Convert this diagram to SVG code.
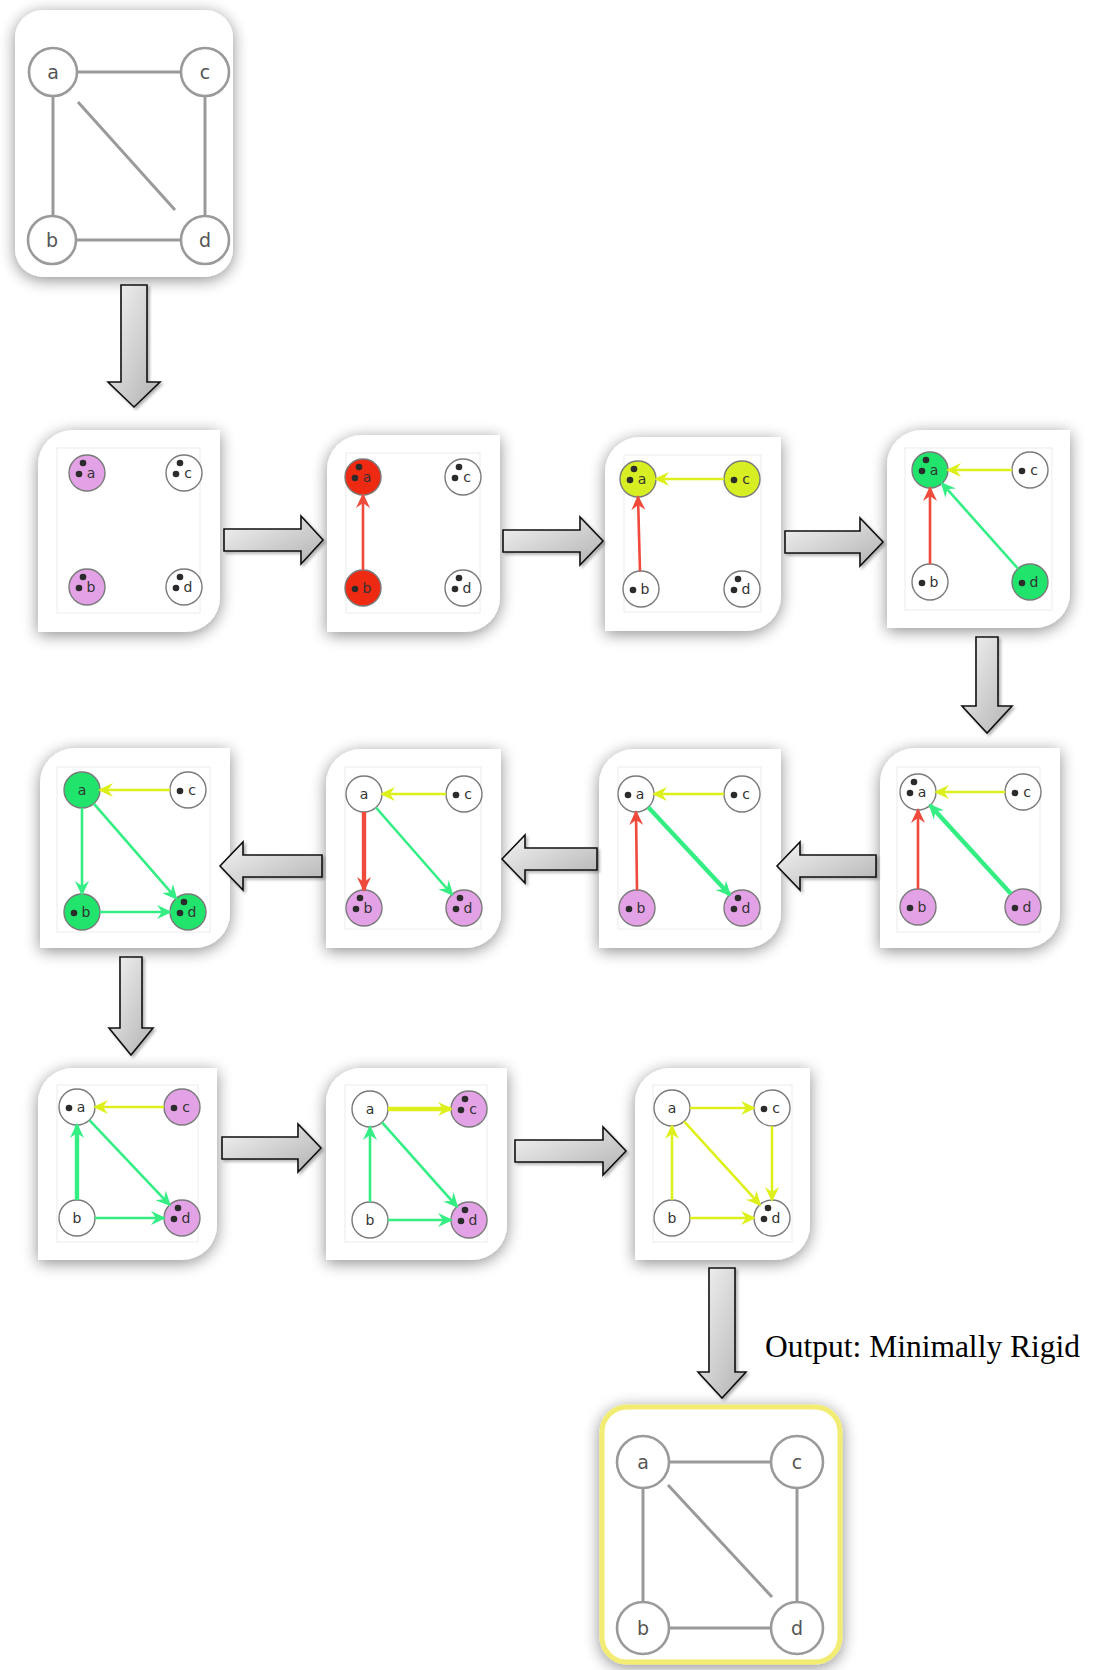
<svg xmlns="http://www.w3.org/2000/svg" width="1093" height="1670" viewBox="0 0 1093 1670">
<defs>
  <filter id="sh" x="-25%" y="-25%" width="150%" height="150%">
    <feGaussianBlur in="SourceAlpha" stdDeviation="8"/>
    <feOffset dx="0" dy="3"/>
    <feComponentTransfer><feFuncA type="linear" slope="0.45"/></feComponentTransfer>
    <feMerge><feMergeNode/><feMergeNode in="SourceGraphic"/></feMerge>
  </filter>
  <filter id="ash" x="-20%" y="-20%" width="140%" height="140%">
    <feGaussianBlur in="SourceAlpha" stdDeviation="1.5"/>
    <feOffset dx="2" dy="2"/>
    <feComponentTransfer><feFuncA type="linear" slope="0.3"/></feComponentTransfer>
    <feMerge><feMergeNode/><feMergeNode in="SourceGraphic"/></feMerge>
  </filter>
  <linearGradient id="gfill" x1="0" y1="0" x2="1" y2="1">
    <stop offset="0" stop-color="#f4f4f4"/>
    <stop offset="1" stop-color="#b2b2b2"/>
  </linearGradient>
  <marker id="mr" viewBox="0 0 15 14" refX="13" refY="7" markerWidth="15" markerHeight="14" markerUnits="userSpaceOnUse" orient="auto">
    <path d="M0,0 L15,7 L0,14 L5,7 Z" fill="#ef4a3c"/>
  </marker>
  <marker id="my" viewBox="0 0 15 14" refX="13" refY="7" markerWidth="15" markerHeight="14" markerUnits="userSpaceOnUse" orient="auto">
    <path d="M0,0 L15,7 L0,14 L5,7 Z" fill="#def01c"/>
  </marker>
  <marker id="mg" viewBox="0 0 15 14" refX="13" refY="7" markerWidth="15" markerHeight="14" markerUnits="userSpaceOnUse" orient="auto">
    <path d="M0,0 L15,7 L0,14 L5,7 Z" fill="#34ee84"/>
  </marker>
  <style>
    .panel { fill:#ffffff; filter:url(#sh); }
    .inner { fill:#ffffff; stroke:#ececec; stroke-width:1; }
    .n { stroke:#7a7a7a; stroke-width:1.4; }
    .pk { fill:#e4a2e6; }
    .rd { fill:#ee2a12; }
    .yl { fill:#d6ee22; }
    .gn { fill:#20e46c; }
    .wh { fill:#ffffff; }
    .peb { fill:#2b2b2b; }
    .lbl { font-family:"DejaVu Sans","Liberation Sans",sans-serif; font-size:14px; fill:#333; text-anchor:middle; }
    .e { fill:none; stroke-width:2.6; }
    .th { stroke-width:4.4; }
    .er { stroke:#ef4a3c; marker-end:url(#mr); }
    .ey { stroke:#def01c; marker-end:url(#my); }
    .eg { stroke:#34ee84; marker-end:url(#mg); }
    .big { fill:url(#gfill); stroke:#111; stroke-width:1.6; stroke-linejoin:miter; filter:url(#ash); }
    .gline { stroke:#9a9a9a; stroke-width:3; fill:none; }
    .gnode { fill:#fff; stroke:#9a9a9a; stroke-width:2.6; }
    .glbl { font-family:"DejaVu Sans","Liberation Sans",sans-serif; font-size:19px; fill:#555; text-anchor:middle; }
  </style>
</defs>

<rect width="1093" height="1670" fill="#ffffff"/>

<!-- input graph -->
<g id="input">
  <rect x="15" y="10" width="218" height="267" rx="28" fill="#fff" filter="url(#sh)"/>
  <line class="gline" x1="77" y1="72" x2="181" y2="72"/>
  <line class="gline" x1="53" y1="96" x2="53" y2="216"/>
  <line class="gline" x1="205" y1="96" x2="205" y2="216"/>
  <line class="gline" x1="76" y1="240" x2="181" y2="240"/>
  <line class="gline" x1="78" y1="102" x2="175" y2="210"/>
  <circle class="gnode" cx="53" cy="72" r="24"/><text class="glbl" x="53" y="79">a</text>
  <circle class="gnode" cx="205" cy="72" r="24"/><text class="glbl" x="205" y="79">c</text>
  <circle class="gnode" cx="52" cy="240" r="24"/><text class="glbl" x="52" y="247">b</text>
  <circle class="gnode" cx="205" cy="240" r="24"/><text class="glbl" x="205" y="247">d</text>
</g>

<!-- step 1 -->
<g id="step1">
  <path class="panel" d="M38,632 V465 A35,35 0 0 1 73,430 H220 V597 A35,35 0 0 1 185,632 Z"/>
  <rect class="inner" x="57" y="448" width="143" height="165"/>
  <circle class="n pk" cx="87" cy="473" r="18"/><circle class="peb" cx="79" cy="474" r="3.3"/><circle class="peb" cx="83" cy="463" r="3.3"/><text class="lbl" x="91" y="478">a</text>
  <circle class="n wh" cx="184" cy="473" r="18"/><circle class="peb" cx="176" cy="474" r="3.3"/><circle class="peb" cx="180" cy="463" r="3.3"/><text class="lbl" x="188" y="478">c</text>
  <circle class="n pk" cx="87" cy="587" r="18"/><circle class="peb" cx="79" cy="588" r="3.3"/><circle class="peb" cx="83" cy="577" r="3.3"/><text class="lbl" x="91" y="592">b</text>
  <circle class="n wh" cx="184" cy="587" r="18"/><circle class="peb" cx="176" cy="588" r="3.3"/><circle class="peb" cx="180" cy="577" r="3.3"/><text class="lbl" x="188" y="592">d</text>
</g>

<!-- step 2 -->
<g id="step2">
  <path class="panel" d="M327,632 V470 A35,35 0 0 1 362,435 H500 V597 A35,35 0 0 1 465,632 Z"/>
  <rect class="inner" x="346" y="453" width="134" height="160"/>
  <circle class="n rd" cx="363" cy="477" r="18"/><circle class="peb" cx="355" cy="478" r="3.3"/><circle class="peb" cx="359" cy="467" r="3.3"/><text class="lbl" x="367" y="482">a</text>
  <circle class="n wh" cx="463" cy="477" r="18"/><circle class="peb" cx="455" cy="478" r="3.3"/><circle class="peb" cx="459" cy="467" r="3.3"/><text class="lbl" x="467" y="482">c</text>
  <circle class="n rd" cx="363" cy="588" r="18"/><circle class="peb" cx="355" cy="589" r="3.3"/><text class="lbl" x="367" y="593">b</text>
  <circle class="n wh" cx="463" cy="588" r="18"/><circle class="peb" cx="455" cy="589" r="3.3"/><circle class="peb" cx="459" cy="578" r="3.3"/><text class="lbl" x="467" y="593">d</text>
  <line class="e er" x1="363" y1="570" x2="363" y2="495"/>
</g>

<!-- step 3 -->
<g id="step3">
  <path class="panel" d="M605,631 V472 A35,35 0 0 1 640,437 H781 V596 A35,35 0 0 1 746,631 Z"/>
  <rect class="inner" x="624" y="455" width="137" height="157"/>
  <circle class="n yl" cx="638" cy="479" r="18"/><circle class="peb" cx="630" cy="480" r="3.3"/><circle class="peb" cx="634" cy="469" r="3.3"/><text class="lbl" x="642" y="484">a</text>
  <circle class="n yl" cx="742" cy="479" r="18"/><circle class="peb" cx="734" cy="480" r="3.3"/><text class="lbl" x="746" y="484">c</text>
  <circle class="n wh" cx="641" cy="589" r="18"/><circle class="peb" cx="633" cy="590" r="3.3"/><text class="lbl" x="645" y="594">b</text>
  <circle class="n wh" cx="742" cy="589" r="18"/><circle class="peb" cx="734" cy="590" r="3.3"/><circle class="peb" cx="738" cy="579" r="3.3"/><text class="lbl" x="746" y="594">d</text>
  <line class="e er" x1="640" y1="571" x2="638" y2="497"/>
  <line class="e ey" x1="724" y1="479" x2="656" y2="479"/>
</g>

<!-- step 4 -->
<g id="step4">
  <path class="panel" d="M887,628 V465 A35,35 0 0 1 922,430 H1070 V593 A35,35 0 0 1 1035,628 Z"/>
  <rect class="inner" x="905" y="448" width="147" height="162"/>
  <circle class="n gn" cx="930" cy="470" r="18"/><circle class="peb" cx="922" cy="471" r="3.3"/><circle class="peb" cx="926" cy="460" r="3.3"/><text class="lbl" x="934" y="475">a</text>
  <circle class="n wh" cx="1030" cy="470" r="18"/><circle class="peb" cx="1022" cy="471" r="3.3"/><text class="lbl" x="1034" y="475">c</text>
  <circle class="n wh" cx="930" cy="582" r="18"/><circle class="peb" cx="922" cy="583" r="3.3"/><text class="lbl" x="934" y="587">b</text>
  <circle class="n gn" cx="1030" cy="582" r="18"/><circle class="peb" cx="1022" cy="583" r="3.3"/><text class="lbl" x="1034" y="587">d</text>
  <line class="e er" x1="930" y1="564" x2="930" y2="488"/>
  <line class="e ey" x1="1012" y1="470" x2="948" y2="470"/>
  <line class="e eg" x1="1018" y1="568.6" x2="942" y2="483.4"/>
</g>

<!-- step 5 -->
<g id="step5">
  <path class="panel" d="M880,948 V783 A35,35 0 0 1 915,748 H1060 V913 A35,35 0 0 1 1025,948 Z"/>
  <rect class="inner" x="897" y="767" width="143" height="165"/>
  <circle class="n wh" cx="918" cy="792" r="18"/><circle class="peb" cx="910" cy="793" r="3.3"/><circle class="peb" cx="914" cy="782" r="3.3"/><text class="lbl" x="922" y="797">a</text>
  <circle class="n wh" cx="1023" cy="792" r="18"/><circle class="peb" cx="1015" cy="793" r="3.3"/><text class="lbl" x="1027" y="797">c</text>
  <circle class="n pk" cx="918" cy="907" r="18"/><circle class="peb" cx="910" cy="908" r="3.3"/><text class="lbl" x="922" y="912">b</text>
  <circle class="n pk" cx="1023" cy="907" r="18"/><circle class="peb" cx="1015" cy="908" r="3.3"/><text class="lbl" x="1027" y="912">d</text>
  <line class="e er" x1="918" y1="889" x2="918" y2="810"/>
  <line class="e ey" x1="1005" y1="792" x2="936" y2="792"/>
  <line class="e eg th" x1="1010.9" y1="893.7" x2="930.1" y2="805.3"/>
</g>

<!-- step 6 -->
<g id="step6">
  <path class="panel" d="M599,948 V784 A35,35 0 0 1 634,749 H781 V913 A35,35 0 0 1 746,948 Z"/>
  <rect class="inner" x="618" y="767" width="143" height="162"/>
  <circle class="n wh" cx="636" cy="794" r="18"/><circle class="peb" cx="628" cy="795" r="3.3"/><text class="lbl" x="640" y="799">a</text>
  <circle class="n wh" cx="742" cy="794" r="18"/><circle class="peb" cx="734" cy="795" r="3.3"/><text class="lbl" x="746" y="799">c</text>
  <circle class="n pk" cx="637" cy="908" r="18"/><circle class="peb" cx="629" cy="909" r="3.3"/><text class="lbl" x="641" y="913">b</text>
  <circle class="n pk" cx="742" cy="908" r="18"/><circle class="peb" cx="734" cy="909" r="3.3"/><circle class="peb" cx="738" cy="898" r="3.3"/><text class="lbl" x="746" y="913">d</text>
  <line class="e er" x1="637" y1="890" x2="636" y2="812"/>
  <line class="e ey" x1="724" y1="794" x2="654" y2="794"/>
  <line class="e eg th" x1="648.3" y1="807.2" x2="729.7" y2="894.8"/>
</g>

<!-- step 7 -->
<g id="step7">
  <path class="panel" d="M326,948 V784 A35,35 0 0 1 361,749 H501 V913 A35,35 0 0 1 466,948 Z"/>
  <rect class="inner" x="345" y="767" width="136" height="162"/>
  <circle class="n wh" cx="364" cy="794" r="18"/><text class="lbl" x="364" y="799">a</text>
  <circle class="n wh" cx="464" cy="794" r="18"/><circle class="peb" cx="456" cy="795" r="3.3"/><text class="lbl" x="468" y="799">c</text>
  <circle class="n pk" cx="364" cy="908" r="18"/><circle class="peb" cx="356" cy="909" r="3.3"/><circle class="peb" cx="360" cy="898" r="3.3"/><text class="lbl" x="368" y="913">b</text>
  <circle class="n pk" cx="464" cy="908" r="18"/><circle class="peb" cx="456" cy="909" r="3.3"/><circle class="peb" cx="460" cy="898" r="3.3"/><text class="lbl" x="468" y="913">d</text>
  <line class="e er th" x1="364" y1="812" x2="364" y2="890"/>
  <line class="e ey" x1="446" y1="794" x2="382" y2="794"/>
  <line class="e eg" x1="375.9" y1="807.5" x2="452.1" y2="894.5"/>
</g>

<!-- step 8 -->
<g id="step8">
  <path class="panel" d="M40,948 V783 A35,35 0 0 1 75,748 H230 V913 A35,35 0 0 1 195,948 Z"/>
  <rect class="inner" x="57" y="767" width="153" height="165"/>
  <circle class="n gn" cx="82" cy="790" r="18"/><text class="lbl" x="82" y="795">a</text>
  <circle class="n wh" cx="188" cy="790" r="18"/><circle class="peb" cx="180" cy="791" r="3.3"/><text class="lbl" x="192" y="795">c</text>
  <circle class="n gn" cx="82" cy="912" r="18"/><circle class="peb" cx="74" cy="913" r="3.3"/><text class="lbl" x="86" y="917">b</text>
  <circle class="n gn" cx="188" cy="912" r="18"/><circle class="peb" cx="180" cy="913" r="3.3"/><circle class="peb" cx="184" cy="902" r="3.3"/><text class="lbl" x="192" y="917">d</text>
  <line class="e eg" x1="82" y1="808" x2="82" y2="894"/>
  <line class="e ey" x1="170" y1="790" x2="100" y2="790"/>
  <line class="e eg" x1="93.8" y1="803.6" x2="176.2" y2="898.4"/>
  <line class="e eg" x1="100" y1="912" x2="170" y2="912"/>
</g>

<!-- step 9 -->
<g id="step9">
  <path class="panel" d="M38,1260 V1103 A35,35 0 0 1 73,1068 H217 V1225 A35,35 0 0 1 182,1260 Z"/>
  <rect class="inner" x="57" y="1085" width="141" height="157"/>
  <circle class="n wh" cx="77" cy="1107" r="18"/><circle class="peb" cx="69" cy="1108" r="3.3"/><text class="lbl" x="81" y="1112">a</text>
  <circle class="n pk" cx="182" cy="1107" r="18"/><circle class="peb" cx="174" cy="1108" r="3.3"/><text class="lbl" x="186" y="1112">c</text>
  <circle class="n wh" cx="77" cy="1218" r="18"/><text class="lbl" x="77" y="1223">b</text>
  <circle class="n pk" cx="182" cy="1218" r="18"/><circle class="peb" cx="174" cy="1219" r="3.3"/><circle class="peb" cx="178" cy="1208" r="3.3"/><text class="lbl" x="186" y="1223">d</text>
  <line class="e eg th" x1="77" y1="1200" x2="77" y2="1125"/>
  <line class="e ey" x1="164" y1="1107" x2="95" y2="1107"/>
  <line class="e eg" x1="89.4" y1="1120.1" x2="169.6" y2="1204.9"/>
  <line class="e eg" x1="95" y1="1218" x2="164" y2="1218"/>
</g>

<!-- step 10 -->
<g id="step10">
  <path class="panel" d="M326,1260 V1103 A35,35 0 0 1 361,1068 H507 V1225 A35,35 0 0 1 472,1260 Z"/>
  <rect class="inner" x="345" y="1085" width="142" height="157"/>
  <circle class="n wh" cx="370" cy="1109" r="18"/><text class="lbl" x="370" y="1114">a</text>
  <circle class="n pk" cx="469" cy="1109" r="18"/><circle class="peb" cx="461" cy="1110" r="3.3"/><circle class="peb" cx="465" cy="1099" r="3.3"/><text class="lbl" x="473" y="1114">c</text>
  <circle class="n wh" cx="370" cy="1220" r="18"/><text class="lbl" x="370" y="1225">b</text>
  <circle class="n pk" cx="469" cy="1220" r="18"/><circle class="peb" cx="461" cy="1221" r="3.3"/><circle class="peb" cx="465" cy="1210" r="3.3"/><text class="lbl" x="473" y="1225">d</text>
  <line class="e eg" x1="370" y1="1202" x2="370" y2="1127"/>
  <line class="e ey th" x1="388" y1="1109" x2="451" y2="1109"/>
  <line class="e eg" x1="382" y1="1122.4" x2="457" y2="1206.6"/>
  <line class="e eg" x1="388" y1="1220" x2="451" y2="1220"/>
</g>

<!-- step 11 -->
<g id="step11">
  <path class="panel" d="M635,1260 V1103 A35,35 0 0 1 670,1068 H810 V1225 A35,35 0 0 1 775,1260 Z"/>
  <rect class="inner" x="653" y="1085" width="139" height="157"/>
  <circle class="n wh" cx="672" cy="1108" r="18"/><text class="lbl" x="672" y="1113">a</text>
  <circle class="n wh" cx="772" cy="1108" r="18"/><circle class="peb" cx="764" cy="1109" r="3.3"/><text class="lbl" x="776" y="1113">c</text>
  <circle class="n wh" cx="672" cy="1218" r="18"/><text class="lbl" x="672" y="1223">b</text>
  <circle class="n wh" cx="772" cy="1218" r="18"/><circle class="peb" cx="764" cy="1219" r="3.3"/><circle class="peb" cx="768" cy="1208" r="3.3"/><text class="lbl" x="776" y="1223">d</text>
  <line class="e ey" x1="672" y1="1200" x2="672" y2="1126"/>
  <line class="e ey" x1="690" y1="1108" x2="754" y2="1108"/>
  <line class="e ey" x1="684.1" y1="1121.3" x2="759.9" y2="1204.7"/>
  <line class="e ey" x1="690" y1="1218" x2="754" y2="1218"/>
  <line class="e ey" x1="772" y1="1126" x2="772" y2="1200"/>
</g>

<!-- result graph -->
<g id="output">
  <rect x="602" y="1407" width="238" height="255" rx="25" fill="#fff" stroke="#f2ec72" stroke-width="5" filter="url(#sh)"/>
  <line class="gline" x1="669" y1="1462" x2="771" y2="1462"/>
  <line class="gline" x1="643" y1="1488" x2="643" y2="1602"/>
  <line class="gline" x1="797" y1="1488" x2="797" y2="1602"/>
  <line class="gline" x1="669" y1="1628" x2="771" y2="1628"/>
  <line class="gline" x1="668" y1="1485" x2="772" y2="1597"/>
  <circle class="gnode" cx="643" cy="1462" r="26"/><text class="glbl" x="643" y="1469">a</text>
  <circle class="gnode" cx="797" cy="1462" r="26"/><text class="glbl" x="797" y="1469">c</text>
  <circle class="gnode" cx="643" cy="1628" r="26"/><text class="glbl" x="643" y="1635">b</text>
  <circle class="gnode" cx="797" cy="1628" r="26"/><text class="glbl" x="797" y="1635">d</text>
</g>

<!-- flow arrows -->
<g id="connectors">
  <path class="big" d="M121,285 H147 V382 H160 L134,407 L108,382 H121 Z"/>
  <path class="big" d="M224,529 H301 V516 L323,540 L301,564 V551 H224 Z"/>
  <path class="big" d="M503,530 H580 V517 L603,541 L580,565 V552 H503 Z"/>
  <path class="big" d="M785,531 H860 V518 L883,542 L860,566 V553 H785 Z"/>
  <path class="big" d="M976,637 H998 V706 H1012 L987,733 L962,706 H976 Z"/>
  <path class="big" d="M876,855 H800 V842 L777,866 L800,890 V877 H876 Z"/>
  <path class="big" d="M597,848 H525 V835 L502,859 L525,883 V870 H597 Z"/>
  <path class="big" d="M322,855 H243 V842 L220,866 L243,890 V877 H322 Z"/>
  <path class="big" d="M120,957 H142 V1028 H153 L131,1055 L109,1028 H120 Z"/>
  <path class="big" d="M222,1137 H298 V1124 L321,1148 L298,1172 V1159 H222 Z"/>
  <path class="big" d="M515,1140 H603 V1127 L626,1151 L603,1175 V1162 H515 Z"/>
  <path class="big" d="M709,1268 H735 V1372 H746 L722,1398 L698,1372 H709 Z"/>
</g>

<text x="765" y="1357" font-family="'Liberation Serif','Times New Roman',serif" font-size="31.5" fill="#000">Output: Minimally Rigid</text>
</svg>
